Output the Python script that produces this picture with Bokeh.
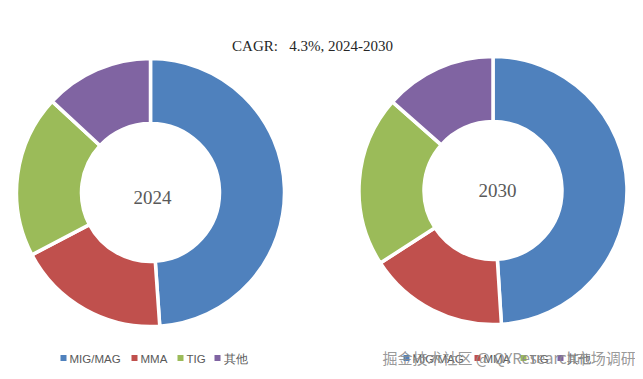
import numpy as np
from bokeh.plotting import figure
from bokeh.models import Range1d, ColumnDataSource
from bokeh.core.properties import value
from bokeh.embed import file_html
from bokeh.resources import INLINE

# ---- data ----
categories = ["MIG/MAG", "MMA", "TIG", "其他"]
share_2024 = [48.9, 18.4, 19.6, 13.1]
share_2030 = [49.0, 16.9, 20.6, 13.5]
years = ["2024", "2030"]
colors = ["#4F81BD", "#C0504D", "#9BBB59", "#8064A2"]
title_text = "CAGR:\u00a0\u00a0\u00a04.3%, 2024-2030"
watermark = "掘金技术社区 @ QYResearch市场调研"

W, H = 635, 371

p = figure(width=W, height=H, output_backend="svg", toolbar_location=None,
           x_range=Range1d(0, W), y_range=Range1d(0, H), min_border=0)
p.axis.visible = False
p.grid.visible = False
p.outline_line_color = None
p.background_fill_color = "white"
p.border_fill_color = "white"


def sx(x):
    return x


def sy(y):
    return H - y


centers = [(150, 192), (492.5, 190)]
label_pos = [(152, 197), (497, 190)]
R_OUT, R_IN = 134, 69

for shares, (cx, cy), yr, (lx, ly) in zip([share_2024, share_2030], centers, years, label_pos):
    vals = np.array(shares, dtype=float)
    frac = vals / vals.sum()
    cum = np.concatenate([[0], np.cumsum(frac)])
    start = np.pi / 2 - 2 * np.pi * cum[:-1]
    end = np.pi / 2 - 2 * np.pi * cum[1:]
    src = ColumnDataSource(dict(start=start, end=end, color=colors, cat=categories))
    p.annular_wedge(x=sx(cx), y=sy(cy), inner_radius=R_IN, outer_radius=R_OUT,
                    start_angle="start", end_angle="end", direction="clock",
                    fill_color="color", line_color="white", line_width=3.5, source=src)
    p.text(x=[sx(lx)], y=[sy(ly)], text=[yr], text_align="center", text_baseline="middle",
           text_font=value("Liberation Serif"), text_font_size="19px", text_color="#595959")

# title
p.text(x=[sx(312)], y=[sy(45)], text=[title_text], text_align="center", text_baseline="middle",
       text_font=value("Liberation Serif"), text_font_size="15px", text_color="#262626")

# legends
legend_offsets = [0, 343]
item_x = [60, 131, 177, 214]
for off in legend_offsets:
    for i, cat in enumerate(categories):
        mx = item_x[i] + off
        p.rect(x=[sx(mx + 3)], y=[sy(357.5)], width=6, height=6, fill_color=colors[i], line_color=None)
        p.text(x=[sx(mx + 9)], y=[sy(358)], text=[cat], text_align="left", text_baseline="middle",
               text_font=value("Liberation Sans"), text_font_size="11.5px", text_color="#595959")

# watermark
p.text(x=[sx(382)], y=[sy(357)], text=[watermark], text_align="left", text_baseline="middle",
       text_font=value("Noto Sans CJK SC"), text_font_size="15px", text_color="#8c8c8c", text_alpha=0.9)

open("out.html", "w").write(file_html(p, INLINE))
